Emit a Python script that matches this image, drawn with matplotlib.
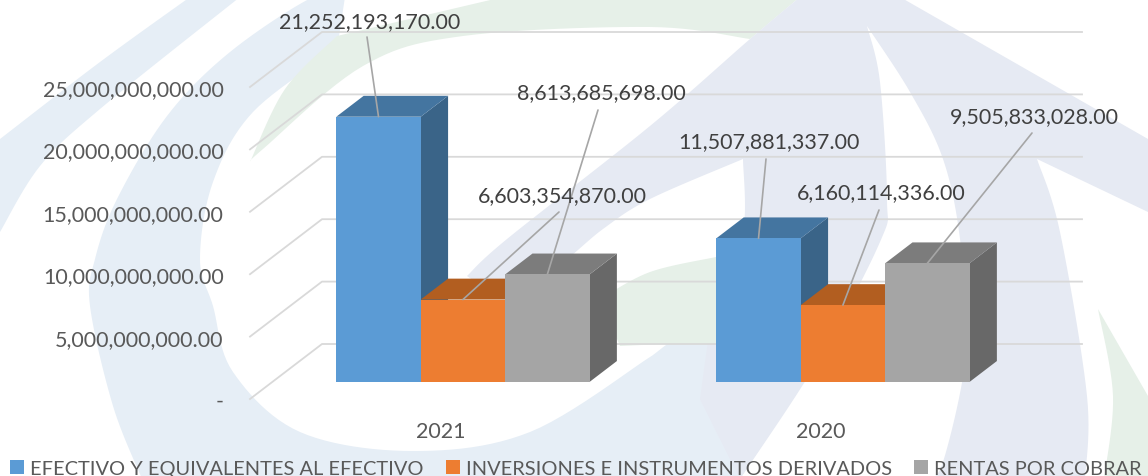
import matplotlib
matplotlib.use('Agg')
import matplotlib.pyplot as plt
import numpy as np
from matplotlib.patches import Patch, Polygon

plt.rcParams['font.family'] = ['Lato', 'DejaVu Sans']

# data
years = ['2021', '2020']
series_names = ['EFECTIVO Y EQUIVALENTES AL EFECTIVO',
                'INVERSIONES E INSTRUMENTOS DERIVADOS',
                'RENTAS POR COBRAR']
efectivo = [21252193170.00, 11507881337.00]
inversiones = [6603354870.00, 6160114336.00]
rentas = [8613685698.00, 9505833028.00]
y_ticks = [0, 5e9, 10e9, 15e9, 20e9, 25e9]

front_colors = ['#5B9BD5', '#ED7D31', '#A5A5A5']
top_colors = ['#4475A0', '#B25E20', '#7C7C7C']
side_colors = ['#3A6488', '#B25E20', '#686868']

W, H = 1148, 477
fig = plt.figure(figsize=(W / 100, H / 100), dpi=100)
fig.patch.set_facecolor('white')

# watermark behind the chart, in pixels
bg = fig.add_axes([0, 0, 1, 1], zorder=0)
bg.set_xlim(0, W)
bg.set_ylim(H, 0)
bg.axis('off')
BLUE_L = '#E6EEF6'
BLUE_R = '#E6EAF3'
GREEN = '#E6F0E8'


def edge(points):
    # catmull-rom through the points of one edge
    p = np.array([points[0]] + list(points) + [points[-1]], dtype=float)
    out = []
    for i in range(1, len(p) - 2):
        for t in np.linspace(0, 1, 12, endpoint=False):
            out.append(0.5 * (2 * p[i] + (p[i + 1] - p[i - 1]) * t
                              + (2 * p[i - 1] - 5 * p[i] + 4 * p[i + 1] - p[i + 2]) * t ** 2
                              + (3 * p[i] - p[i - 1] - 3 * p[i + 1] + p[i + 2]) * t ** 3))
    out.append(p[-1])
    return out


def shape(edges, color):
    pts = []
    for e in edges:
        pts += edge(e)
    bg.add_patch(Polygon(pts, closed=True, fc=color, ec='none'))


# outer left band
shape([[(0, 140), (100, 63), (190, -2)], [(190, -2), (240, -2)], [(240, -2), (100, 110), (40, 167), (0, 233)]], BLUE_L)
# inner C band, running under the chart
shape([[(345, -2), (313, -2), (230, 53), (167, 117), (117, 200), (95, 260), (90, 307), (113, 407), (142, 480)],
       [(142, 480), (740, 480)],
       [(740, 480), (817, 363)],
       [(817, 363), (800, 330), (700, 330), (650, 358)],
       [(650, 358), (530, 433), (413, 452), (300, 433), (233, 373), (213, 307), (200, 260), (213, 183), (253, 113),
        (337, 50)],
       [(337, 50), (345, -2)]], BLUE_L)
# green swoosh
shape([[(337, 37), (503, -2)], [(503, -2), (800, -2)], [(800, -2), (750, 40)],
       [(750, 40), (650, 28), (463, 37), (363, 67), (263, 150), (250, 163)],
       [(250, 163), (285, 90), (337, 37)]], GREEN)
# centre mass with the right arm
shape([[(800, -2), (900, -2)], [(900, -2), (1148, 140)], [(1148, 140), (1148, 213)], [(1148, 213), (1037, 160)],
       [(1037, 160), (1060, 233), (1087, 397), (1085, 480)], [(1085, 480), (925, 480)],
       [(925, 480), (943, 463), (967, 347), (960, 240), (943, 160), (910, 93), (867, 27)],
       [(867, 27), (880, 83), (887, 200), (880, 243), (817, 363), (740, 480)],
       [(740, 480), (700, 400)], [(700, 400), (716, 300), (743, 233), (743, 160)],
       [(743, 160), (650, 200), (603, 230), (560, 265), (500, 300)],
       [(500, 300), (467, 277)], [(467, 277), (507, 240), (650, 127), (750, 40), (800, -2)]], BLUE_R)
# green leaf and bottom right
shape([[(600, 300), (650, 273), (716, 258)], [(716, 258), (716, 345)], [(716, 345), (670, 345), (620, 347)],
       [(620, 347), (600, 300)]], GREEN)
shape([[(1098, 310), (1148, 397)], [(1148, 397), (1148, 480)], [(1148, 480), (1104, 480)],
       [(1104, 480), (1113, 397), (1098, 310)]], GREEN)

# chart axes: front plane of the oblique view
px_per_year = 380.0
px_per_value = 12.48e-9
year0_px = 440.6
ax_left, ax_right, ax_bottom = 250, 1010, 400
ax_top = ax_bottom - 25e9 * px_per_value
ax = fig.add_axes([ax_left / W, 1 - ax_bottom / H, (ax_right - ax_left) / W, (ax_bottom - ax_top) / H],
                  zorder=1)
ax.patch.set_alpha(0)
ax.set_xlim((ax_left - year0_px) / px_per_year, (ax_right - year0_px) / px_per_year)
ax.set_ylim(0, 25e9)
for s in ax.spines.values():
    s.set_visible(False)

# depth of the floor
DX = 72 / px_per_year
DY = 55 / px_per_value
BAR_W = 84.4 / px_per_year
D_FRONT, D_BACK = 0.31, 0.69

ax.set_yticks(y_ticks)
ax.set_yticklabels(['-' if v == 0 else f'{v:,.2f}' for v in y_ticks], color='#595959', fontsize=15.5)
ax.tick_params(axis='y', length=0, pad=19)
ax.set_xticks(range(len(years)))
ax.set_xticklabels(years, color='#595959', fontsize=15.5)
ax.tick_params(axis='x', length=0, pad=16)

# gridlines: side wall and back wall
x0, x1 = ax.get_xlim()
for v in y_ticks:
    ax.plot([x0, x0 + DX, x1 + DX], [v, v + DY, v + DY], color='#D9D9D9', lw=1.3, clip_on=False, zorder=1)

# bars
tops = []
for k, values in enumerate([efectivo, inversiones, rentas]):
    for c, v in enumerate(values):
        left = c + (k - 1.5) * BAR_W + D_FRONT * DX
        right = left + BAR_W
        y0 = D_FRONT * DY
        y1 = y0 + v
        dx = (D_BACK - D_FRONT) * DX
        dy = (D_BACK - D_FRONT) * DY
        z = 2 + k
        ax.add_patch(Polygon([(right, y0), (right + dx, y0 + dy), (right + dx, y1 + dy), (right, y1)],
                             fc=side_colors[k], ec='none', clip_on=False, zorder=z))
        ax.add_patch(Polygon([(left, y1), (left + dx, y1 + dy), (right + dx, y1 + dy), (right, y1)],
                             fc=top_colors[k], ec='none', clip_on=False, zorder=z))
        ax.add_patch(Polygon([(left, y0), (right, y0), (right, y1), (left, y1)],
                             fc=front_colors[k], ec='none', clip_on=False, zorder=z))
        tops.append(((left + right) / 2, y1))

# data labels with leader lines, label position in pixels from the top left
all_values = efectivo + inversiones + rentas
label_px = [(370, 22), (769, 142), (562, 196), (881, 193), (601, 93), (1034, 117)]
leader_px = [(367, 38), (766, 160), (559, 213), (879, 211), (598, 111), (1032, 134)]
for v, top, lab, lead in zip(all_values, tops, label_px, leader_px):
    ax.annotate('', xy=top, xycoords='data', xytext=(lead[0], H - lead[1]), textcoords='figure pixels',
                arrowprops=dict(arrowstyle='-', color='#A6A6A6', lw=1.2, shrinkA=0, shrinkB=0), zorder=8)
    ax.annotate(f'{v:,.2f}', xy=(lab[0], H - lab[1]), xycoords='figure pixels', ha='center', va='center',
                color='#404040', fontsize=15.5, zorder=9)

# legend
handles = [Patch(fc=c, ec='none') for c in front_colors]
fig.legend(handles, series_names, ncol=3, frameon=False, loc='lower left', bbox_to_anchor=(10 / W, -1 / H),
           fontsize=14.4, labelcolor='#595959', handlelength=0.7, handleheight=0.7,
           handletextpad=0.3, columnspacing=1.1, borderpad=0, borderaxespad=0)

fig.savefig('out.png', dpi=100)
